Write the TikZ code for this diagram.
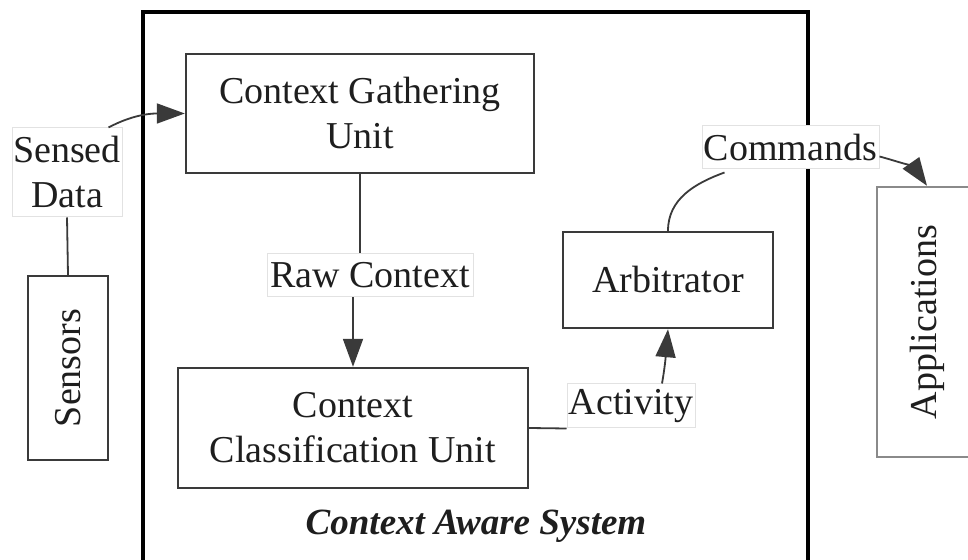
\documentclass[tikz,border=0pt]{standalone}
\usepackage{fontspec}
\setmainfont{Liberation Serif}
\usetikzlibrary{arrows.meta}
\definecolor{boxline}{HTML}{3A3A3A}
\definecolor{appline}{HTML}{8A8A8A}
\definecolor{lblline}{HTML}{E2E2E2}
\definecolor{txt}{HTML}{1E1E1E}
\tikzset{
  unitbox/.style={draw=boxline, line width=2.4pt, fill=white, align=center, inner sep=0pt, text=txt},
  lbl/.style={draw=lblline, line width=1pt, fill=white, align=center, inner sep=0pt, text=txt},
  conn/.style={draw=boxline, line width=1.8pt},
  tip/.style={-{Triangle[length=28pt,width=20pt]}}
}
\begin{document}
\begin{tikzpicture}[x=1pt,y=1pt,font=\fontsize{38}{45}\selectfont]
\useasboundingbox (0,0) rectangle (968,559);
\fill[white] (0,0) rectangle (968,559);
\begin{scope}
\clip (0,0) rectangle (968,559);
% outer system box
\draw[line width=4pt, black] (143,-30) -- (143,547) -- (808,547) -- (808,-30);
\node[unitbox, draw=appline, minimum width=100, minimum height=270] (app) at (927,237) {};
\end{scope}
\node[rotate=90, text=txt] (apptext) at (927,237) {Applications};

\node[unitbox, minimum width=348, minimum height=119] (cgu) at (360,445.5) {Context Gathering\\Unit};
\node[unitbox, minimum width=80, minimum height=184] (sens) at (68,191) {};
\node[rotate=90, text=txt] (senstext) at (68,191) {Sensors};
\node[lbl, minimum width=110, minimum height=89] (sd) at (67,386.5) {Sensed\\Data};
\node[lbl, minimum width=206, minimum height=43] (rc) at (370,283.5) {Raw Context};
\node[unitbox, minimum width=350, minimum height=120] (ccu) at (353,131) {Context\\Classification Unit};
\node[lbl, minimum width=128, minimum height=44] (act) at (631,153) {Activity};
\node[unitbox, minimum width=210, minimum height=96] (arb) at (668,279) {Arbitrator};
\node[lbl, minimum width=177, minimum height=43] (cmd) at (790.5,411.5) {Commands};
\node[text=txt, anchor=base, font=\fontsize{37}{44}\selectfont\bfseries\itshape] (cas) at (476,24) {Context Aware System};

% connectors
\draw[conn] (sens.north) -- (sd.south);
\draw[conn, tip] ([xshift=-14pt]sd.north east) to[out=28,in=180] (cgu.west);
\draw[conn] (cgu.south) -- (cgu.south |- rc.north);
\draw[conn, tip] (ccu.north |- rc.south) -- (ccu.north);
\draw[conn] (ccu.east) -- (act.south west);
\draw[conn, tip] ([xshift=31pt]act.north) to[out=80,in=-95] (arb.south);
\draw[conn] (arb.north) to[out=90,in=200] ([xshift=23pt, yshift=-3pt]cmd.south west);
\draw[conn, tip] ([yshift=-9pt]cmd.east) to[out=-15,in=125] (app.north);
\end{tikzpicture}
\end{document}
